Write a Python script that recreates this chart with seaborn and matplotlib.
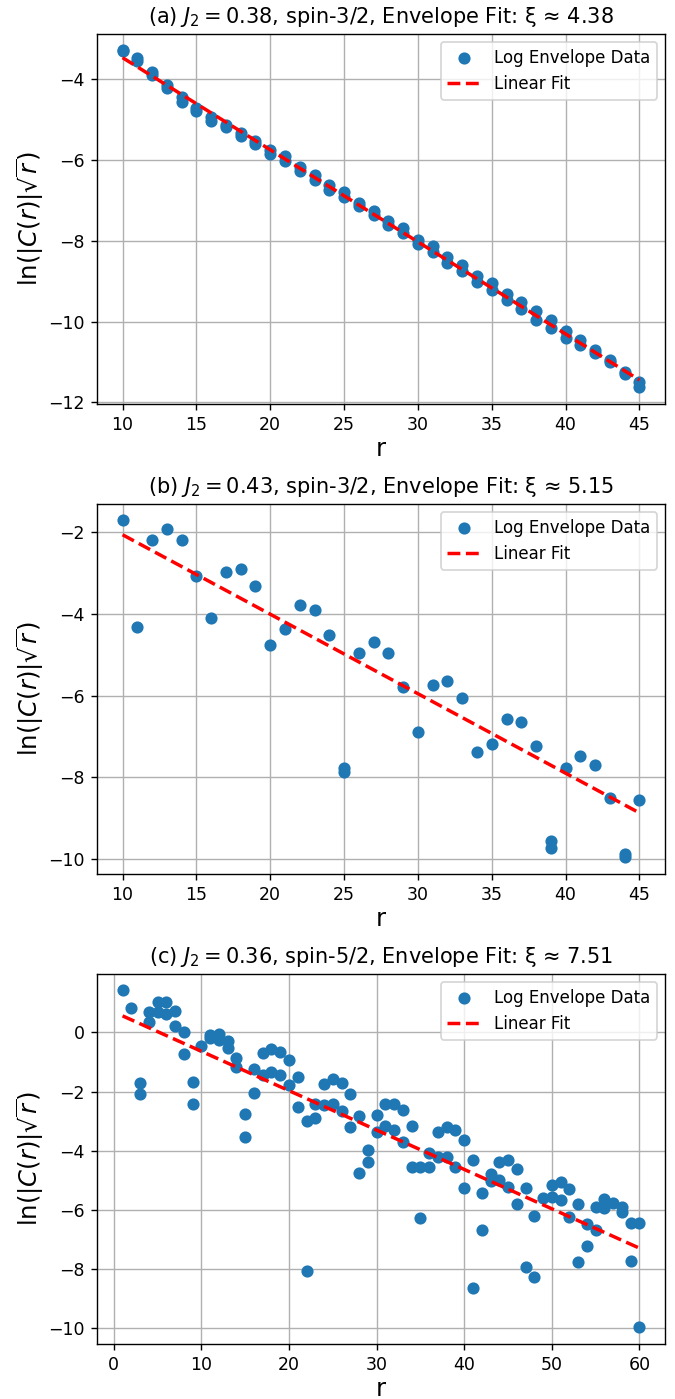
import numpy as np
import pandas as pd
import matplotlib
matplotlib.use("Agg")
import matplotlib.pyplot as plt
import seaborn as sns

# ---- Panel (a): J2 = 0.38, spin-3/2 ----
r_a = list(range(10, 46))
a_upper = [-3.28, -3.47, -3.82, -4.14, -4.44, -4.70, -4.93, -5.12, -5.33, -5.52,
           -5.74, -5.90, -6.18, -6.36, -6.61, -6.79, -7.06, -7.25, -7.52, -7.69,
           -7.98, -8.14, -8.41, -8.60, -8.86, -9.05, -9.33, -9.51, -9.74, -9.96,
           -10.24, -10.46, -10.71, -10.96, -11.25, -11.50]
a_lower = [-3.30, -3.54, -3.90, -4.22, -4.55, -4.77, -5.03, -5.18, -5.41, -5.60,
           -5.85, -6.03, -6.28, -6.49, -6.73, -6.92, -7.14, -7.35, -7.60, -7.81,
           -8.09, -8.28, -8.55, -8.75, -9.03, -9.22, -9.47, -9.68, -9.96, -10.15,
           -10.40, -10.59, -10.79, -11.00, -11.29, -11.62]

# ---- Panel (b): J2 = 0.43, spin-3/2 ----
r_b = [10, 11, 12, 13, 14, 15, 16, 17, 18, 19, 20, 21, 22, 23, 24, 25, 25,
       26, 27, 28, 29, 30, 31, 32, 33, 34, 35, 36, 37, 38, 39, 39, 40, 41,
       42, 43, 44, 44, 45]
b_vals = [-1.72, -4.33, -2.21, -1.94, -2.19, -3.07, -4.10, -2.97, -2.90, -3.33,
          -4.77, -4.37, -3.79, -3.90, -4.52, -7.77, -7.86, -4.97, -4.69, -4.95,
          -5.80, -6.88, -5.73, -5.64, -6.05, -7.37, -7.19, -6.56, -6.64, -7.23,
          -9.55, -9.73, -7.76, -7.47, -7.69, -8.50, -9.88, -9.94, -8.55]

# ---- Panel (c): J2 = 0.36, spin-5/2 ----
r_c = [1, 2, 3, 3, 4, 4, 5, 5, 6, 6, 7, 7, 8, 8, 9, 9, 10, 11, 11, 12, 12,
       13, 13, 14, 14, 15, 15, 16, 16, 17, 17, 18, 18, 19, 19, 20, 20, 21, 21,
       22, 22, 23, 23, 24, 24, 25, 25, 26, 26, 27, 27, 28, 28, 29, 29, 30, 30,
       31, 31, 32, 32, 33, 33, 34, 34, 35, 35, 36, 36, 37, 37, 38, 38, 39, 39,
       40, 40, 41, 41, 42, 42, 43, 43, 44, 44, 45, 45, 46, 46, 47, 47, 48, 48,
       49, 50, 50, 51, 51, 52, 52, 53, 53, 54, 54, 55, 55, 56, 56, 57, 58, 58,
       59, 59, 60, 60]
c_vals = [1.42, 0.82, -1.71, -2.07, 0.70, 0.36, 1.04, 0.70, 1.02, 0.61, 0.73, 0.22,
          0.02, -0.73, -1.68, -2.43, -0.46, -0.09, -0.18, -0.05, -0.26,
          -0.28, -0.54, -0.88, -1.16, -2.77, -3.54, -1.22, -2.05, -0.71, -1.43,
          -0.56, -1.33, -0.66, -1.45, -0.94, -1.79, -1.50, -2.52,
          -3.00, -8.06, -2.43, -2.89, -1.75, -2.44, -1.56, -2.41, -1.71, -2.67,
          -2.07, -3.20, -2.84, -4.76, -3.97, -4.39, -2.78, -3.37,
          -2.43, -3.18, -2.43, -3.31, -2.64, -3.69, -3.17, -4.54, -4.54, -6.29,
          -4.08, -4.54, -3.38, -4.20, -3.20, -4.22, -3.31, -4.54,
          -3.63, -5.26, -4.33, -8.66, -5.44, -6.68, -4.79, -5.01, -4.39, -4.99,
          -4.33, -5.22, -4.63, -5.81, -5.26, -7.93, -6.22, -8.26,
          -5.60, -5.16, -5.56, -5.07, -5.67, -5.30, -6.24, -5.81, -7.75,
          -6.49, -7.22, -5.92, -6.69, -5.64, -5.94, -5.77, -5.89, -6.09,
          -6.43, -7.73, -6.43, -9.96]

# Correlation lengths and fit intercepts: ln(|C|sqrt(r)) = b - r / xi
panel_tags = ["(a)", "(b)", "(c)"]
j2_values = [0.38, 0.43, 0.36]
spins = ["3/2", "3/2", "5/2"]
xi_values = [4.38, 5.15, 7.51]
intercepts = [-1.177, -0.128, 0.693]

datasets = [
    (r_a + r_a, a_upper + a_lower),
    (r_b, b_vals),
    (r_c, c_vals),
]

fig, axes = plt.subplots(3, 1, figsize=(5.4, 11.192), dpi=125)
fig.subplots_adjust(left=0.1433, right=0.9856, bottom=0.0395, top=0.976,
                    hspace=0.27)

for ax, (rs, vals), tag, j2, spin, xi, b in zip(
        axes, datasets, panel_tags, j2_values, spins, xi_values, intercepts):
    df = pd.DataFrame({"r": rs, "val": vals})
    sns.scatterplot(data=df, x="r", y="val", ax=ax, s=36, color="#1f77b4",
                    edgecolor="#1f77b4", linewidth=1.0,
                    label="Log Envelope Data", zorder=3)
    r_fit = np.array(sorted(set(rs)), dtype=float)
    fit_df = pd.DataFrame({"r": r_fit, "fit": b - r_fit / xi})
    sns.lineplot(data=fit_df, x="r", y="fit", ax=ax, color="red",
                 linestyle="--", linewidth=2, label="Linear Fit", zorder=4)
    ax.set_title(f"{tag} $J_2 = {j2:.2f}$, spin-{spin}, Envelope Fit: ξ ≈ {xi:.2f}",
                 fontsize=12)
    ax.set_xlabel("r", fontsize=14, labelpad=2)
    ax.set_ylabel(r"$\ln(|C(r)|\sqrt{r})$", fontsize=14, labelpad=1)
    ax.grid(True)
    ax.legend(loc="upper right", fontsize=9.6)

fig.savefig("out.png", dpi=125)
